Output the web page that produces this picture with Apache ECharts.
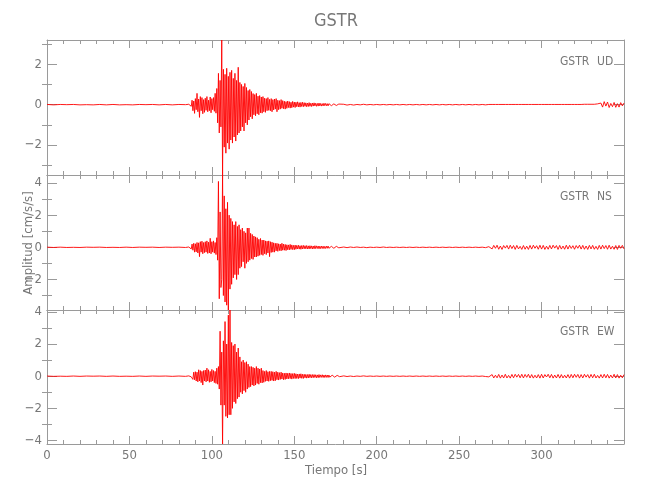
<!DOCTYPE html>
<html><head><meta charset="utf-8">
<script src="https://cdn.jsdelivr.net/npm/echarts@6/dist/echarts.min.js"></script>
<style>html,body{margin:0;padding:0;background:#fff}#c{width:650px;height:500px}</style>
</head><body><div id="c"></div>
<script>
// ---- data (accelerations in cm/s/s) ----
const stationName = 'GSTR';
const componentNames = ['UD', 'NS', 'EW'];
const xTickLabels = [0, 50, 100, 150, 200, 250, 300];
const timeRange = [0, 350];
const yRanges = [[-3.48, 3.2], [-3.9, 4.5], [-4.22, 4.12]];
const yMajorTicks = [[-2, 0, 2], [-2, 0, 2, 4], [-4, -2, 0, 2, 4]];
const yMinorTicks = [[-3, -1, 1, 3], [-3, -1, 1, 3], [-3, -1, 1, 3]];

// sampling of each segment: [start time s, step s]
const preSeg = [0, 4], mainSeg = [86, 0.5], midSeg = [180, 2], lateSeg = [270, 1];

const udPre = [0.01,-0.01,0.01,0,0.01,-0.01,0,-0.01,0.01,-0.01,0.01,-0.01,0,-0.01,0.01,0,0.01,-0.01,0.01,-0.01,0.01,0];
const udMain = [
0.02,-0.03,0.05,-0.08,0.22,-0.3,0.18,-0.43,0.3,-0.25,
0.56,-0.35,0.28,-0.63,0.4,-0.3,0.35,-0.45,0.25,-0.38,
0.32,-0.28,0.4,-0.35,0.22,-0.3,0.38,-0.4,0.3,-0.25,
0.35,-0.33,0.56,-0.42,0.8,-0.9,1.55,-1.4,1.2,-1.1,
3.2,-3.48,1.75,-2.1,1.5,-2.4,1.8,-1.9,1.4,-2.2,
1.6,-1.75,1.7,-1.9,1.3,-1.6,1.55,-1.8,1.2,-1.5,
1.85,-1.4,1.1,-1.3,1.0,-1.1,0.9,-1.3,1.05,-0.9,
0.85,-1.0,0.7,-0.76,0.75,-0.6,0.65,-0.7,0.55,-0.5,
0.5,-0.55,0.56,-0.45,0.42,-0.5,0.45,-0.4,0.38,-0.42,
0.4,-0.35,0.32,-0.38,0.3,-0.3,0.35,-0.28,0.26,-0.3,
0.3,-0.35,0.25,-0.26,0.28,-0.22,0.3,-0.35,0.22,-0.25,
0.2,-0.22,0.25,-0.18,0.2,-0.2,0.17,-0.22,0.15,-0.18,
0.18,-0.14,0.15,-0.17,0.12,-0.15,0.16,-0.12,0.13,-0.14,
0.12,-0.1,0.14,-0.11,0.1,-0.12,0.11,-0.09,0.12,-0.1,
0.1,-0.08,0.09,-0.1,0.08,-0.09,0.1,-0.08,0.07,-0.09,
0.08,-0.07,0.09,-0.06,0.07,-0.08,0.06,-0.07,0.08,-0.06,
0.06,-0.07,0.05,-0.06,0.07,-0.05,0.06,-0.05,0.05,-0.06,
0.05,-0.04,0.05,-0.05,0.04,-0.05,0.04,-0.04,0.05,-0.04,
0.04,-0.03,0.03,-0.03,0.02];
const udMid = [
0.02,-0.02,0.01,-0.02,0.01,-0.01,0.02,-0.01,0.01,-0.01,
0.01,-0.01,0.01,-0.01,0.01,-0.01,0.01,-0.01,0.01,-0.01,
0.01,-0.01,0.01,-0.01,0.01,-0.01,0.01,-0.01,0.01,-0.01,
0.01,-0.01,0.01,-0.01,0.01,-0.01,0.01,-0.01,0.01,-0.01,
0.01,-0.01,0.01,-0.01,0.01];
const udLate = [
0.01,-0.01,0.01,-0.01,0.01,-0.01,0.01,-0.01,0.01,-0.01,
0.01,-0.01,0.01,-0.01,0.01,-0.01,0.01,-0.01,0.01,-0.01,
0.01,-0.01,0.01,-0.01,0.01,-0.01,0.01,-0.01,0.01,-0.01,
0.01,-0.01,0.01,-0.01,0.01,-0.01,0.01,-0.01,0.01,-0.01,
0.01,-0.01,0.01,-0.01,0.01,-0.01,0.01,-0.01,0.01,-0.01,
0.01,-0.01,0.01,-0.01,0.01,-0.01,0.02,-0.01,0.02,-0.02,
0.02,-0.02,0.02,-0.03,0.04,-0.05,0.08,
-0.12,0.15,-0.07,0.13,-0.14,0.06,-0.1,0.11,-0.13,0.05,-0.12,0.1,-0.06,0.08];

const nsPre = [0.01,-0.01,0.01,-0.01,0,-0.01,0.01,0,0.01,-0.01,0,-0.01,0.01,-0.01,0.01,0,0.01,-0.01,0.01,0,0.01,-0.01];
const nsMain = [
0.02,-0.02,0.04,-0.1,0.2,-0.18,0.25,-0.3,0.22,-0.28,
0.3,-0.35,0.28,-0.58,0.35,-0.3,0.38,-0.4,0.3,-0.33,
0.35,-0.3,0.4,-0.38,0.32,-0.35,0.56,-0.4,0.35,-0.3,
0.4,-0.36,0.3,-0.45,0.6,-0.8,4.1,-3.2,2.2,-2.5,
-2.0,4.5,-3.0,3.2,-3.4,2.4,-3.6,2.8,-3.9,2.0,
-2.6,1.8,-2.3,1.6,-1.9,1.4,-1.7,1.6,-2.0,1.3,
-1.7,1.4,-1.3,1.1,-1.2,1.2,-0.9,1.0,-1.3,0.9,
-1.0,1.2,-0.9,1.2,-0.8,0.87,-0.7,0.8,-0.75,0.7,
-0.6,0.65,-0.6,0.6,-0.55,0.5,-0.5,0.55,-0.45,0.45,
-0.5,0.45,-0.4,0.4,-0.45,0.38,-0.35,0.4,-0.58,0.35,
-0.32,0.32,-0.3,0.28,-0.3,0.25,-0.22,0.25,-0.25,0.22,
-0.2,0.2,-0.22,0.25,-0.18,0.2,-0.18,0.18,-0.2,0.16,
-0.15,0.15,-0.16,0.18,-0.13,0.15,-0.14,0.12,-0.15,0.14,
-0.12,0.12,-0.1,0.13,-0.11,0.1,-0.12,0.11,-0.1,0.12,
-0.09,0.1,-0.09,0.11,-0.1,0.09,-0.1,0.1,-0.08,0.09,
-0.1,0.08,-0.09,0.1,-0.08,0.09,-0.07,0.08,-0.09,0.07,
-0.08,0.08,-0.07,0.07,-0.08,0.06,-0.07,0.07,-0.06,0.08,
-0.06,0.06,-0.05,0.06,-0.06,0.05,-0.06,0.05,-0.05,0.06,
-0.05,0.04,-0.03,0.03,-0.02];
const nsMid = [
0.02,-0.02,0.02,-0.01,0.02,-0.01,0.01,-0.02,0.01,-0.01,
0.01,-0.01,0.02,-0.01,0.01,-0.01,0.01,-0.01,0.01,-0.01,
0.01,-0.01,0.01,-0.01,0.01,-0.01,0.01,-0.01,0.01,-0.01,
0.01,-0.01,0.01,-0.01,0.01,-0.01,0.01,-0.01,0.01,-0.01,
0.01,-0.01,0.01,-0.02,0.04];
const nsLate = [
-0.1,0.12,-0.06,0.13,-0.12,0.08,-0.13,0.11,-0.05,0.12,
-0.11,0.13,-0.08,0.11,-0.13,0.12,-0.1,0.06,-0.13,0.11,
-0.12,0.07,-0.13,0.12,-0.11,0.13,-0.06,0.1,-0.12,0.13,
-0.11,0.12,-0.13,0.07,-0.12,0.12,-0.1,0.13,-0.05,0.11,
-0.13,0.12,-0.11,0.08,-0.12,0.13,-0.11,0.12,-0.07,0.1,
-0.12,0.11,-0.06,0.13,-0.11,0.12,-0.12,0.08,-0.13,0.12,
-0.1,0.12,-0.12,0.06,-0.13,0.12,-0.11,0.13,-0.08,0.11,
-0.12,0.13,-0.11,0.07,-0.12,0.11,-0.13,0.12,-0.06,0.12,-0.1];

const ewPre = [0.01,-0.01,0,-0.01,0.01,-0.01,0.01,0,0.01,-0.01,0.01,-0.01,0,-0.01,0.01,-0.01,0.01,0,0.01,-0.01,0.01,-0.01];
const ewMain = [
0.02,-0.02,0.03,-0.04,0.06,-0.2,0.25,-0.22,0.28,-0.3,
0.25,-0.35,0.4,-0.3,0.35,-0.4,0.3,-0.55,0.35,-0.3,
0.38,-0.35,0.5,-0.3,0.4,-0.38,0.3,-0.35,0.42,-0.3,
0.35,-0.4,0.3,-0.45,0.5,-0.5,0.6,-0.8,2.8,-1.8,
1.5,-4.22,2.2,-1.8,3.4,-2.5,2.0,-2.6,3.8,-2.4,
4.12,-2.4,2.1,-2.0,1.9,-1.6,2.0,-1.7,1.5,-1.4,
1.75,-1.3,1.2,-1.0,0.9,-1.1,1.0,-0.9,0.85,-1.0,
0.9,-0.8,0.75,-0.7,0.6,-0.65,0.6,-0.55,0.55,-0.6,
0.5,-0.55,0.6,-0.45,0.5,-0.5,0.45,-0.4,0.5,-0.42,
0.35,-0.38,0.3,-0.32,0.35,-0.3,0.28,-0.32,0.3,-0.28,
0.3,-0.26,0.28,-0.3,0.25,-0.28,0.3,-0.22,0.25,-0.24,
0.22,-0.2,0.25,-0.18,0.2,-0.22,0.18,-0.2,0.2,-0.17,
0.18,-0.16,0.2,-0.15,0.17,-0.18,0.16,-0.14,0.18,-0.15,
0.15,-0.14,0.13,-0.15,0.14,-0.12,0.15,-0.13,0.12,-0.14,
0.12,-0.1,0.11,-0.12,0.1,-0.11,0.12,-0.09,0.1,-0.1,
0.1,-0.09,0.1,-0.08,0.09,-0.1,0.08,-0.09,0.1,-0.08,
0.08,-0.07,0.09,-0.08,0.07,-0.08,0.08,-0.07,0.07,-0.08,
0.07,-0.06,0.06,-0.07,0.06,-0.06,0.05,-0.06,0.06,-0.05,
0.05,-0.04,0.03,-0.03,0.02];
const ewMid = [
0.02,-0.02,0.01,-0.02,0.01,-0.01,0.02,-0.01,0.01,-0.01,
0.01,-0.01,0.01,-0.01,0.01,-0.01,0.01,-0.01,0.01,-0.01,
0.01,-0.01,0.01,-0.01,0.01,-0.01,0.01,-0.01,0.01,-0.01,
0.01,-0.01,0.01,-0.01,0.01,-0.01,0.01,-0.01,0.01,-0.01,
0.01,-0.01,0.01,-0.02,-0.04];
const ewLate = [
0.1,-0.11,0.06,-0.1,0.11,-0.12,0.07,-0.11,0.12,-0.11,
0.05,-0.12,0.11,-0.1,0.12,-0.06,0.11,-0.1,0.12,-0.11,
0.11,-0.07,0.12,-0.11,0.1,-0.12,0.06,-0.11,0.1,-0.12,
0.12,-0.11,0.1,-0.05,0.12,-0.1,0.11,-0.12,0.07,-0.11,
0.11,-0.12,0.1,-0.11,0.06,-0.11,0.1,-0.12,0.11,-0.1,
0.12,-0.07,0.11,-0.12,0.1,-0.11,0.12,-0.06,0.1,-0.12,
0.11,-0.1,0.12,-0.11,0.05,-0.12,0.1,-0.11,0.12,-0.1,
0.11,-0.12,0.07,-0.11,0.12,-0.11,0.1,-0.12,0.06,-0.1,0.1];

// ---- build ----
function seg(s, vals) { return vals.map((v, i) => [s[0] + i * s[1], v]); }
const traces = [
  [].concat(seg(preSeg, udPre), seg(mainSeg, udMain), seg(midSeg, udMid), seg(lateSeg, udLate)),
  [].concat(seg(preSeg, nsPre), seg(mainSeg, nsMain), seg(midSeg, nsMid), seg(lateSeg, nsLate)),
  [].concat(seg(preSeg, ewPre), seg(mainSeg, ewMain), seg(midSeg, ewMid), seg(lateSeg, ewLate))
];

const FONT = '"Liberation Sans Narrow","DejaVu Sans Condensed","Roboto Condensed",Roboto,sans-serif';
const AX = '#9a9a9a', TXT = '#777777';
const panels = [{top: 40, height: 135}, {top: 175, height: 135}, {top: 310, height: 134}];

const grid = [], xAxis = [], yAxis = [], series = [];
panels.forEach((p, i) => {
  grid.push({left: 47, right: 26, top: p.top, height: p.height});
  const xBase = {
    type: 'value', gridIndex: i, min: timeRange[0], max: timeRange[1], interval: 50,
    axisLine: {show: true, onZero: false, lineStyle: {color: AX, width: 1}},
    axisTick: {show: true, inside: true, length: 8, lineStyle: {color: AX}},
    minorTick: {show: true, splitNumber: 5, length: 4, lineStyle: {color: AX}},
    splitLine: {show: false}, minorSplitLine: {show: false}
  };
  xAxis.push(Object.assign({}, xBase, {
    position: 'bottom',
    axisLabel: {show: i === 2, customValues: xTickLabels, color: TXT, fontFamily: FONT, fontSize: 13, margin: 5}
  }));
  xAxis.push(Object.assign({}, xBase, {position: 'top', axisLabel: {show: false}}));
  const yBase = {
    type: 'value', gridIndex: i, min: yRanges[i][0], max: yRanges[i][1],
    splitLine: {show: false}, minorTick: {show: false}
  };
  yAxis.push(Object.assign({}, yBase, {
    position: 'left',
    axisLine: {show: true, onZero: false, lineStyle: {color: AX}},
    axisTick: {show: true, inside: true, length: 10, customValues: yMajorTicks[i], lineStyle: {color: AX}},
    axisLabel: {show: true, customValues: yMajorTicks[i], color: TXT, fontFamily: FONT, fontSize: 13, margin: 5,
      formatter: v => (v < 0 ? '\u2212' : '') + Math.abs(v)}
  }));
  yAxis.push(Object.assign({}, yBase, {
    position: 'left', axisLine: {show: false},
    axisTick: {show: true, inside: true, length: 5, customValues: yMinorTicks[i], lineStyle: {color: AX}},
    axisLabel: {show: false}
  }));
  yAxis.push(Object.assign({}, yBase, {
    position: 'right',
    axisLine: {show: true, onZero: false, lineStyle: {color: AX}},
    axisTick: {show: true, inside: true, length: 10, customValues: yMajorTicks[i], lineStyle: {color: AX}},
    axisLabel: {show: false}
  }));
  yAxis.push(Object.assign({}, yBase, {
    position: 'right', axisLine: {show: false},
    axisTick: {show: true, inside: true, length: 5, customValues: yMinorTicks[i], lineStyle: {color: AX}},
    axisLabel: {show: false}
  }));
  series.push({
    type: 'line', xAxisIndex: 2 * i, yAxisIndex: 4 * i, data: traces[i],
    showSymbol: false, symbol: 'none', sampling: null, animation: false, z: 1,
    lineStyle: {color: '#ff0000', width: 0.9}
  });
});

const graphic = [
  {type: 'text', x: 336, y: 21, style: {text: stationName, fill: TXT, font: '18px ' + FONT, align: 'center', verticalAlign: 'middle', textAlign: 'center', textVerticalAlign: 'middle'}},
  {type: 'text', x: 336, y: 471, style: {text: 'Tiempo [s]', fill: TXT, font: '13px ' + FONT, align: 'center', verticalAlign: 'middle', textAlign: 'center', textVerticalAlign: 'middle'}},
  {type: 'text', x: 29, y: 243, rotation: Math.PI / 2, style: {text: 'Amplitud [cm/s/s]', fill: TXT, font: '13px ' + FONT, align: 'center', verticalAlign: 'middle', textAlign: 'center', textVerticalAlign: 'middle'}}
];
const labelY = [62, 197, 332];
componentNames.forEach((c, i) => {
  graphic.push({type: 'text', x: 560, y: labelY[i], style: {text: stationName, fill: TXT, font: '12px ' + FONT, align: 'left', verticalAlign: 'middle', textAlign: 'left', textVerticalAlign: 'middle'}});
  graphic.push({type: 'text', x: 597, y: labelY[i], style: {text: c, fill: TXT, font: '12px ' + FONT, align: 'left', verticalAlign: 'middle', textAlign: 'left', textVerticalAlign: 'middle'}});
});

const chart = echarts.init(document.getElementById('c'), null, {renderer: 'canvas'});
chart.setOption({animation: false, backgroundColor: '#fff', grid, xAxis, yAxis, series, graphic});
</script>
</body></html>
